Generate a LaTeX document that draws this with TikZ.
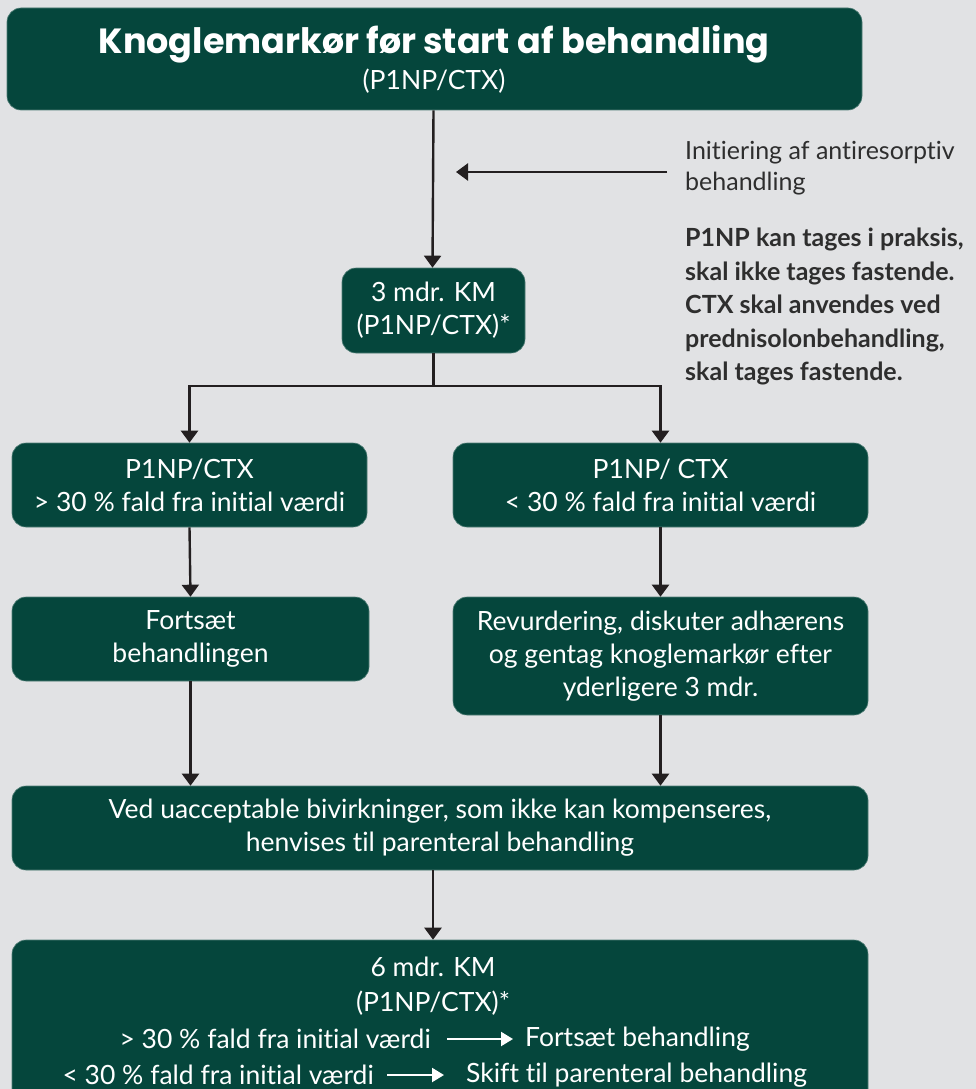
\documentclass[tikz,border=0pt]{standalone}
\usepackage{fontspec}
\setmainfont{Lato}[Ligatures=NoCommon]
\newfontfamily\titlefont{Poppins}[UprightFont=* Bold]
\usetikzlibrary{arrows.meta}
\definecolor{bg}{HTML}{E1E2E4}
\definecolor{boxgreen}{HTML}{05463C}
\definecolor{linec}{HTML}{231F20}
\definecolor{sidetxt}{HTML}{2E2E2E}
\tikzset{
  gbox/.style={fill=boxgreen, draw=boxgreen!70!white, line width=0.6pt, rounded corners=14pt,
    inner sep=0pt, text=white, align=center, font=\fontsize{26.5}{33}\selectfont},
  conn/.style={draw=linec, line width=2.4pt, -{Triangle[width=17pt,length=12pt]}},
  plainconn/.style={draw=linec, line width=2.4pt},
  wconn/.style={draw=white, line width=2.2pt, -{Triangle[width=14pt,length=12pt]}},
  sidetext/.style={text=sidetxt, align=left, anchor=north west, inner sep=0pt, font=\fontsize{25}{31}\selectfont},
  wtext/.style={text=white, inner sep=0pt, font=\fontsize{26.5}{33}\selectfont},
}
\begin{document}
\begin{tikzpicture}[x=1pt,y=-1pt]
\useasboundingbox (0,0) rectangle (976,1089);
\clip (0,0) rectangle (976,1089);
\fill[bg] (0,0) rectangle (976,1089);

\node[gbox, minimum width=855, minimum height=102] (title) at (434.5,59) {};
\node[text=white, inner sep=0pt, font=\titlefont\fontsize{35}{38}\selectfont] (titletxt) at (434,44) {Knoglemarkør før start af behandling};
\node[text=white, inner sep=0pt, font=\fontsize{26.5}{33}\selectfont] (titlesub) at (434,81) {(P1NP/CTX)};

\node[gbox, minimum width=183, minimum height=85] (km3) at (433.5,310.5) {3 mdr. KM\\(P1NP/CTX)*};

\node[gbox, minimum width=355, minimum height=84] (L1) at (189.5,485) {P1NP/CTX\\> 30 \% fald fra initial værdi};
\node[gbox, minimum width=415, minimum height=84] (R1) at (660.5,485) {P1NP/ CTX\\< 30 \% fald fra initial værdi};

\node[gbox, minimum width=357, minimum height=84] (L2) at (190.5,639) {Fortsæt\\behandlingen};
\node[gbox, minimum width=415, minimum height=118] (R2) at (660.5,656) {Revurdering, diskuter adhærens\\og gentag knoglemarkør efter\\yderligere 3 mdr.};

\node[gbox, minimum width=856, minimum height=84] (wide) at (440,828) {Ved uacceptable bivirkninger, som ikke kan kompenseres,\\henvises til parenteral behandling};

\node[gbox, minimum width=856, minimum height=180] (bottom) at (440,1030) {};
\node[wtext] (b0) at (433,967) {6 mdr. KM};
\node[wtext] (b0b) at (433,1003) {(P1NP/CTX)*};
\node[wtext, anchor=east] (b1a) at (431,1039) {> 30 \% fald fra initial værdi};
\node[wtext, anchor=west] (b1b) at (525,1039) {Fortsæt behandling};
\node[wtext, anchor=east] (b2a) at (374,1075) {< 30 \% fald fra initial værdi};
\node[wtext, anchor=west] (b2b) at (466,1075) {Skift til parenteral behandling};
\draw[wconn] ([xshift=16pt]b1a.east) -- ([xshift=-12pt]b1b.west);
\draw[wconn] ([xshift=13pt]b2a.east) -- ([xshift=-22pt]b2b.west);

% side texts
\node[sidetext] (init) at (685,141) {Initiering af antiresorptiv\\behandling};
\node[sidetext, font=\bfseries\fontsize{25}{33.5}\selectfont] (note) at (685,228) {P1NP kan tages i praksis,\\skal ikke tages fastende.\\CTX skal anvendes ved\\prednisolonbehandling,\\skal tages fastende.};

% connectors
\coordinate (initstart) at (667,172);
\coordinate (initend) at (456,172);
\draw[conn] (initstart) -- (initend);
\draw[conn] ([xshift=-1pt]title.south) -- ([xshift=-1pt]km3.north);
\coordinate (split) at (433.5,386);
\draw[plainconn] (km3.south) -- (split);
\draw[conn] (split) -| (L1.north);
\draw[conn] (split) -| (R1.north);
\draw[conn] (L1.south) -- (L2.north);
\draw[conn] (R1.south) -- (R2.north);
\draw[conn] (L2.south) -- (L2.south |- wide.north);
\draw[conn] (R2.south) -- (R2.south |- wide.north);
\draw[conn] ([xshift=-7pt]wide.south) -- ([xshift=-7pt]wide.south |- bottom.north);
\end{tikzpicture}
\end{document}
